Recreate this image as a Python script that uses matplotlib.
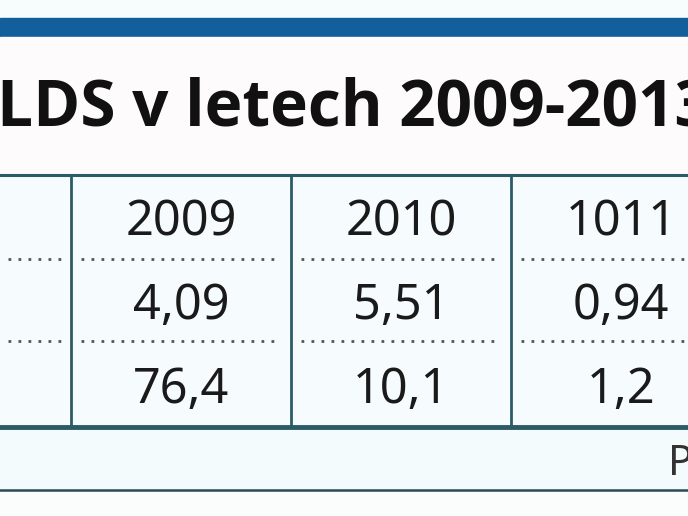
import matplotlib
matplotlib.use('Agg')
import matplotlib.pyplot as plt

# table content
title = "LDS v letech 2009-2013"
years = ["2009", "2010", "1011"]
row_a = ["4,09", "5,51", "0,94"]
row_b = ["76,4", "10,1", "1,2"]

W, H = 688, 516
fig = plt.figure(figsize=(W / 100, H / 100), dpi=100)
fig.patch.set_facecolor('#f7fcfd')
ax = fig.add_axes([0, 0, 1, 1])
ax.set_xlim(0, W)
ax.set_ylim(H, 0)
ax.axis('off')

line_col = '#2c5b68'

# blue band on top
ax.axhspan(18, 37, color='#135f9b')
ax.axhspan(37, 175, color='#fdfbfb')
ax.axhspan(175, 427, color='#f6fcfe')
ax.axhspan(427, 490, color='#f3fbfd')
ax.axhspan(490, H, color='#fbfdfd')

ax.text(-3, 109, title, fontsize=46, fontweight='bold', family='Open Sans',
        color='#111111', ha='left', va='center')

# table frame
ax.axhline(175, color=line_col, lw=2.2)
ax.axhline(427, color=line_col, lw=3.5)
ax.axhline(490, color='#2d4a55', lw=1.8)

col_w = 220
first = 71
ncol = len(years) + 1
for i in range(ncol):
    x = first + i * col_w
    ax.plot([x, x], [175, 427], color=line_col, lw=2)

# dotted row separators, one per cell
rows_y = [175, 259, 341, 427]
for y in rows_y[1:-1]:
    ax.plot([8, 64], [y, y], color='#555555', lw=2, ls=(0, (1, 2.6)))
    for i in range(ncol):
        x0 = first + i * col_w
        ax.plot([x0 + 10, x0 + col_w - 10], [y, y], color='#555555', lw=2, ls=(0, (1, 2.6)))

rows = [years, row_a, row_b]
for r, vals in enumerate(rows):
    yc = (rows_y[r] + rows_y[r + 1]) / 2
    for i, v in enumerate(vals):
        xc = first + col_w / 2 + i * col_w
        ax.text(xc, yc + 6, v, fontsize=35, family='Noto Sans', color='#1a1a1a',
                ha='center', va='center')

ax.text(668, 464, "P", fontsize=30, family='Noto Sans', color='#333333',
        ha='left', va='center')

plt.savefig('out.png', dpi=100, facecolor=fig.get_facecolor())
